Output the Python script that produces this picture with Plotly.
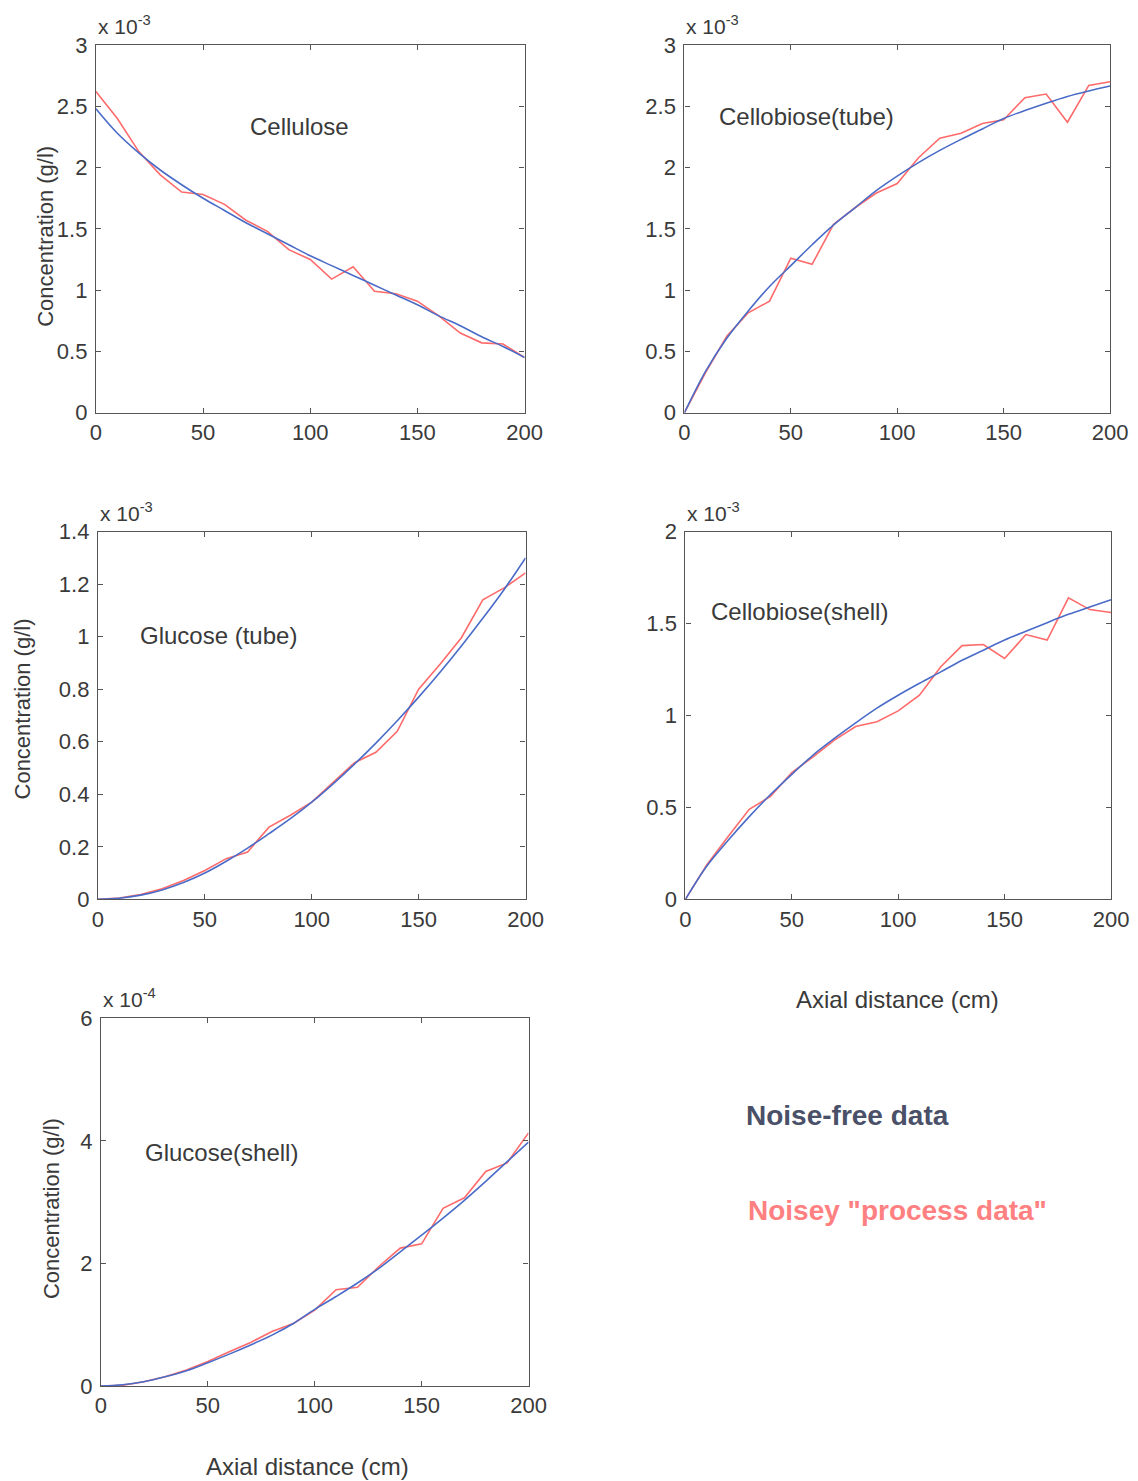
import plotly.graph_objects as go

W, H = 1150, 1495
# calibration of figure coordinates to the photographed page (measured from earlier renders)
SX, OX = 0.98, 13.0
SY, OY = 0.984, 19.0

x_dist = [0, 10, 20, 30, 40, 50, 60, 70, 80, 90, 100, 110, 120, 130, 140, 150, 160, 170, 180, 190, 200]

# Cellulose (x 1e-3)
cellulose_free = [2.48, 2.28, 2.12, 1.98, 1.86, 1.75, 1.65, 1.55, 1.46, 1.37, 1.28, 1.20, 1.12, 1.04, 0.96, 0.88, 0.79, 0.71, 0.62, 0.54, 0.45]
cellulose_noisy = [2.62, 2.40, 2.13, 1.94, 1.80, 1.78, 1.70, 1.57, 1.48, 1.33, 1.25, 1.09, 1.19, 0.99, 0.97, 0.91, 0.79, 0.65, 0.57, 0.56, 0.45]

# Cellobiose (tube) (x 1e-3)
cellotube_free = [0, 0.34, 0.61, 0.83, 1.03, 1.20, 1.37, 1.53, 1.67, 1.81, 1.93, 2.04, 2.14, 2.23, 2.315, 2.40, 2.465, 2.525, 2.58, 2.625, 2.665]
cellotube_noisy = [0, 0.33, 0.625, 0.815, 0.91, 1.26, 1.21, 1.535, 1.67, 1.79, 1.87, 2.08, 2.24, 2.28, 2.36, 2.39, 2.57, 2.60, 2.37, 2.67, 2.70]

# Glucose (tube) (x 1e-3)
glutube_free = [0, 0.004, 0.016, 0.036, 0.064, 0.10, 0.145, 0.195, 0.25, 0.307, 0.37, 0.44, 0.515, 0.595, 0.68, 0.77, 0.865, 0.965, 1.07, 1.18, 1.30]
glutube_noisy = [0, 0.005, 0.018, 0.04, 0.072, 0.11, 0.155, 0.18, 0.275, 0.32, 0.37, 0.445, 0.52, 0.56, 0.64, 0.80, 0.895, 0.996, 1.14, 1.186, 1.243]

# Cellobiose (shell) (x 1e-3)
celloshell_free = [0, 0.18, 0.32, 0.45, 0.57, 0.68, 0.785, 0.875, 0.96, 1.04, 1.11, 1.175, 1.237, 1.30, 1.355, 1.41, 1.458, 1.505, 1.55, 1.59, 1.63]
celloshell_noisy = [0, 0.187, 0.34, 0.49, 0.56, 0.69, 0.775, 0.866, 0.94, 0.966, 1.025, 1.11, 1.265, 1.38, 1.386, 1.31, 1.44, 1.41, 1.64, 1.576, 1.56]

# Glucose (shell) (x 1e-4)
glushell_free = [0, 0.02, 0.07, 0.15, 0.25, 0.38, 0.52, 0.67, 0.83, 1.02, 1.25, 1.46, 1.68, 1.92, 2.19, 2.46, 2.74, 3.03, 3.34, 3.66, 3.98]
glushell_noisy = [0, 0.01, 0.07, 0.15, 0.26, 0.40, 0.56, 0.71, 0.89, 1.02, 1.24, 1.57, 1.61, 1.95, 2.25, 2.32, 2.90, 3.07, 3.50, 3.64, 4.13]

x_ticks = [0, 50, 100, 150, 200]

panels = [
    dict(free=cellulose_free, noisy=cellulose_noisy, box=(95, 524, 44, 412), yr=[0, 3],
         yt=[0, 0.5, 1, 1.5, 2, 2.5, 3], ytl=["0", "0.5", "1", "1.5", "2", "2.5", "3"],
         exp="-3", label="Cellulose", lpos=(299, 126), lanchor="center"),
    dict(free=cellotube_free, noisy=cellotube_noisy, box=(684, 1110, 44, 412), yr=[0, 3],
         yt=[0, 0.5, 1, 1.5, 2, 2.5, 3], ytl=["0", "0.5", "1", "1.5", "2", "2.5", "3"],
         exp="-3", label="Cellobiose(tube)", lpos=(717, 116), lanchor="left"),
    dict(free=glutube_free, noisy=glutube_noisy, box=(97, 525, 531, 899), yr=[0, 1.4],
         yt=[0, 0.2, 0.4, 0.6, 0.8, 1.0, 1.2, 1.4], ytl=["0", "0.2", "0.4", "0.6", "0.8", "1", "1.2", "1.4"],
         exp="-3", label="Glucose (tube)", lpos=(137, 635), lanchor="left"),
    dict(free=celloshell_free, noisy=celloshell_noisy, box=(685, 1111, 531, 899), yr=[0, 2],
         yt=[0, 0.5, 1, 1.5, 2], ytl=["0", "0.5", "1", "1.5", "2"],
         exp="-3", label="Cellobiose(shell)", lpos=(709, 611), lanchor="left"),
    dict(free=glushell_free, noisy=glushell_noisy, box=(100, 528, 1018, 1386), yr=[0, 6],
         yt=[0, 2, 4, 6], ytl=["0", "2", "4", "6"],
         exp="-4", label="Glucose(shell)", lpos=(142, 1152), lanchor="left"),
]

RED = "#ff6b6b"
BLUE = "#4a6cc8"
TXT = "#3a3a3a"
FONT = "Liberation Sans, Arial, sans-serif"

fig = go.Figure()
annotations = []


def px_x(t):
    return ((t - OX) / SX) / W


def px_y(t):
    return 1 - ((t - OY) / SY) / H


layout = dict(
    width=W, height=H, margin=dict(l=0, r=0, t=0, b=0),
    paper_bgcolor="white", plot_bgcolor="white", showlegend=False,
    font=dict(family=FONT, size=22, color=TXT),
)

for i, p in enumerate(panels, start=1):
    xa = "x" if i == 1 else f"x{i}"
    ya = "y" if i == 1 else f"y{i}"
    fig.add_trace(go.Scatter(x=x_dist, y=p["noisy"], mode="lines",
                             line=dict(color=RED, width=1.6), xaxis=xa, yaxis=ya))
    fig.add_trace(go.Scatter(x=x_dist, y=p["free"], mode="lines", line_shape="spline",
                             line=dict(color=BLUE, width=1.6), xaxis=xa, yaxis=ya))
    x0, x1, y0, y1 = p["box"]
    axcommon = dict(showgrid=False, zeroline=False, showline=True, linecolor="#555555",
                    linewidth=1.2, mirror="ticks", ticks="inside", ticklen=5,
                    tickcolor="#555555", tickfont=dict(size=22, color=TXT, family=FONT))
    layout[f"xaxis{'' if i == 1 else i}"] = dict(
        domain=[px_x(x0), px_x(x1)], range=[0, 200], tickvals=x_ticks,
        anchor=ya, **axcommon)
    layout[f"yaxis{'' if i == 1 else i}"] = dict(
        domain=[px_y(y1), px_y(y0)], range=p["yr"], tickvals=p["yt"], ticktext=p["ytl"],
        anchor=xa, ticklabelstandoff=3, **axcommon)
    annotations.append(dict(x=px_x(x0), y=px_y(y0 - 5), xref="paper", yref="paper",
                            text=f"x 10<sup>{p['exp']}</sup>", showarrow=False,
                            xanchor="left", yanchor="bottom",
                            font=dict(size=21, color=TXT, family=FONT)))
    lx, ly = p["lpos"]
    annotations.append(dict(x=px_x(lx), y=px_y(ly), xref="paper", yref="paper",
                            text=p["label"], showarrow=False,
                            xanchor=p["lanchor"], yanchor="middle",
                            font=dict(size=24, color=TXT, family=FONT)))

for (cx, cy) in [(45, 235), (22, 708), (50, 1208)]:
    annotations.append(dict(x=px_x(cx), y=px_y(cy), xref="paper", yref="paper",
                            text="Concentration (g/l)", showarrow=False, textangle=-90,
                            xanchor="center", yanchor="middle",
                            font=dict(size=22, color=TXT, family=FONT)))

for (cx, cy) in [(897, 999), (307, 1467)]:
    annotations.append(dict(x=px_x(cx), y=px_y(cy), xref="paper", yref="paper",
                            text="Axial distance (cm)", showarrow=False,
                            xanchor="center", yanchor="middle",
                            font=dict(size=24, color=TXT, family=FONT)))

annotations.append(dict(x=px_x(744), y=px_y(1115), xref="paper", yref="paper",
                        text="<b>Noise-free data</b>", showarrow=False,
                        xanchor="left", yanchor="middle",
                        font=dict(size=28, color="#4a5068", family=FONT)))
annotations.append(dict(x=px_x(746), y=px_y(1210), xref="paper", yref="paper",
                        text="<b>Noisey \"process data\"</b>", showarrow=False,
                        xanchor="left", yanchor="middle",
                        font=dict(size=28, color="#ff8080", family=FONT)))

layout["annotations"] = annotations
fig.update_layout(**layout)
fig.write_html("out.html")
